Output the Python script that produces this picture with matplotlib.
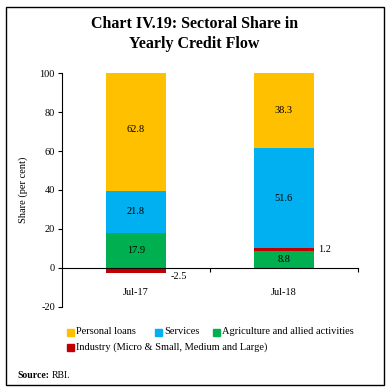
import matplotlib
matplotlib.use("Agg")
import matplotlib.pyplot as plt
from matplotlib.patches import Rectangle
import numpy as np

plt.rcParams['font.family'] = ['Liberation Serif', 'DejaVu Serif']
plt.rcParams['axes.unicode_minus'] = False

categories = ["Jul-17", "Jul-18"]
agriculture = [17.9, 8.8]
industry = [-2.5, 1.2]
services = [21.8, 51.6]
personal = [62.8, 38.3]

colors = {"Personal loans": "#FFC000", "Services": "#00B0F0",
          "Agriculture and allied activities": "#00B050",
          "Industry (Micro & Small, Medium and Large)": "#C00000"}

fig = plt.figure(figsize=(3.89, 3.91), dpi=100)
ax = fig.add_axes([0.159, 0.2156, 0.761, 0.597])

x = np.arange(len(categories))
w = 0.405
stack_order = [("Agriculture and allied activities", agriculture),
               ("Industry (Micro & Small, Medium and Large)", industry),
               ("Services", services),
               ("Personal loans", personal)]
pos_base = np.zeros(len(categories))
neg_base = np.zeros(len(categories))
for name, vals in stack_order:
    vals = np.array(vals, dtype=float)
    bottoms = np.where(vals >= 0, pos_base, neg_base)
    ax.bar(x, vals, w, bottom=bottoms, color=colors[name], edgecolor='none', zorder=2)
    for i, v in enumerate(vals):
        if name.startswith("Industry"):
            yy = bottoms[i] + v / 2
            ax.text(x[i] + w / 2 + 0.03, yy - (3 if v < 0 else 0), f"{v:.1f}",
                    ha='left', va='center', fontsize=7.5)
        else:
            ax.text(x[i], bottoms[i] + v / 2, f"{v:.1f}", ha='center', va='center',
                    fontsize=7.5)
    pos_base = pos_base + np.where(vals >= 0, vals, 0)
    neg_base = neg_base + np.where(vals < 0, vals, 0)

ax.set_xlim(-0.5, 1.5)
ax.set_ylim(-20, 100)
ax.set_yticks(np.arange(-20, 101, 20))
ax.tick_params(axis='y', labelsize=7.5, length=3, width=0.8, pad=2)
ax.spines['top'].set_visible(False)
ax.spines['right'].set_visible(False)
ax.spines['bottom'].set_position(('data', 0))
ax.spines['bottom'].set_linewidth(0.8)
ax.spines['left'].set_linewidth(0.8)
ax.set_xticks([0.5, 1.5], minor=False)
ax.set_xticklabels([])
ax.tick_params(axis='x', which='major', length=3, width=0.8, direction='out')
for i, c in enumerate(categories):
    ax.text(x[i], -12.5, c, ha='center', va='center', fontsize=7.5)
ax.set_ylabel("Share (per cent)", fontsize=7.5, labelpad=8)

fig.text(0.5, 1 - 34 / 391, "Chart IV.19: Sectoral Share in\nYearly Credit Flow",
         ha='center', va='center', fontsize=11.5, fontweight='bold', linespacing=1.3)

def leg_item(xp, yp, name):
    fig.patches.append(Rectangle((xp / 389, 1 - (yp + 4) / 391), 7 / 389, 7 / 391,
                                 transform=fig.transFigure, color=colors[name],
                                 figure=fig))
    fig.text((xp + 9) / 389, 1 - yp / 391, name, ha='left', va='center', fontsize=7.5)

leg_item(67, 332, "Personal loans")
leg_item(155, 332, "Services")
leg_item(213, 332, "Agriculture and allied activities")
leg_item(67, 347, "Industry (Micro & Small, Medium and Large)")

fig.text(17 / 389, 1 - 375 / 391, "Source:", ha='left', va='center', fontsize=7,
         fontweight='bold')
fig.text(52 / 389, 1 - 375 / 391, "RBI.", ha='left', va='center', fontsize=7)

fig.patches.append(Rectangle((6.5 / 389, 1 - 385 / 391), 377 / 389, 378 / 391,
                             transform=fig.transFigure, fill=False, edgecolor='black',
                             linewidth=1.0, figure=fig))

fig.savefig("out.png", dpi=100)
